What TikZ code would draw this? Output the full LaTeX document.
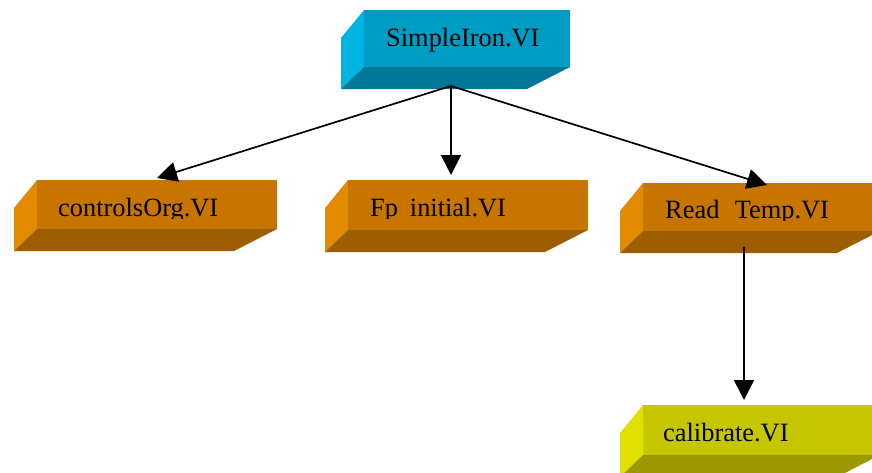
\documentclass[tikz,border=0pt]{standalone}
\usepackage{fontspec}
\setmainfont{Liberation Serif}
\usetikzlibrary{arrows.meta}
\definecolor{blueF}{RGB}{0,156,196}
\definecolor{blueS}{RGB}{0,180,226}
\definecolor{blueB}{RGB}{0,120,150}
\definecolor{orF}{RGB}{200,117,0}
\definecolor{orS}{RGB}{226,139,0}
\definecolor{orB}{RGB}{156,94,0}
\definecolor{yeF}{RGB}{198,198,0}
\definecolor{yeS}{RGB}{225,225,0}
\definecolor{yeB}{RGB}{154,154,0}
\newcommand{\vibox}[7]{%
  \fill[#6] (#1,#2) -- ({#1-23},{#2+28}) -- ({#1-23},{#4+22}) -- (#1,#4) -- cycle;
  \fill[#7] (#1,#4) -- (#3,#4) -- ({#3-43},{#4+22}) -- ({#1-23},{#4+22}) -- cycle;
  \fill[#5] (#1,#2) rectangle (#3,#4);
}
\tikzset{
  lbl/.style={anchor=base west, inner sep=0pt, font=\fontsize{26.4}{30}\selectfont, text=black},
  conn/.style={draw=black, line width=1.7pt, -{Triangle[width=20pt,length=20pt]}}
}
\begin{document}
\begin{tikzpicture}[x=1pt,y=-1pt]
\useasboundingbox (0,0) rectangle (872,472);
\clip (0,0) rectangle (872,472);
% boxes
\vibox{364}{10}{570}{67}{blueF}{blueS}{blueB}
\vibox{37}{180}{277}{229}{orF}{orS}{orB}
\vibox{348}{180}{588}{230}{orF}{orS}{orB}
\vibox{643}{183}{880}{231}{orF}{orS}{orB}
\vibox{643}{405}{880}{455}{yeF}{yeS}{yeB}
% labels
\node[lbl] (simple) at (386,46) {SimpleIron.VI};
\begin{scope}
  \clip (0,150) rectangle (300,218);
  \node[lbl] (controls) at (58,216.5) {controlsOrg.VI};
\end{scope}
\begin{scope}
  \clip (340,150) rectangle (600,218);
  \node[lbl] (fp) at (370,216) {Fp\hspace{0.45em}initial.VI};
\end{scope}
\begin{scope}
  \clip (640,150) rectangle (872,220);
  \node[lbl] (read) at (665,218.5) {Read\hspace{0.58em}Temp.VI};
\end{scope}
\begin{scope}
  \clip (640,380) rectangle (872,443);
  \node[lbl] (calib) at (663,441.5) {calibrate.VI};
\end{scope}
% connector ends
\coordinate (si-out) at (451,86);
\coordinate (controls-in) at (157,178);
\coordinate (fp-in) at (451,175);
\coordinate (read-in) at (767,185);
\coordinate (read-out) at (744,247);
\coordinate (calib-in) at (744,400);
\draw[conn] (si-out) -- (controls-in);
\draw[conn] (si-out) -- (fp-in);
\draw[conn] (si-out) -- (read-in);
\draw[conn] (read-out) -- (calib-in);
\end{tikzpicture}
\end{document}
